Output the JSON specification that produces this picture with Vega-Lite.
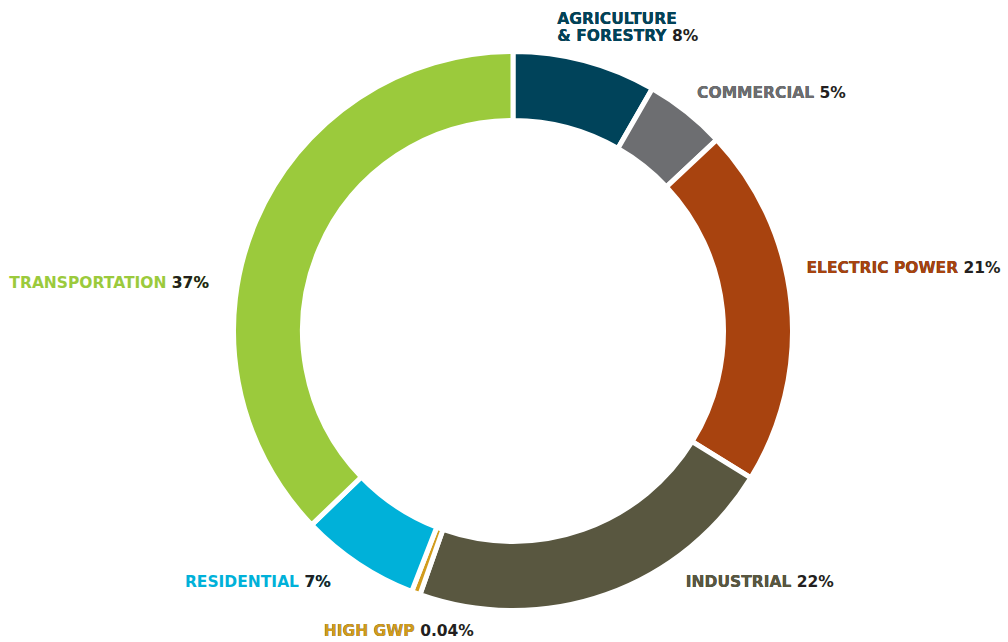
{
  "$schema": "https://vega.github.io/schema/vega-lite/v6.json",
  "width": 990,
  "height": 622,
  "autosize": {"type": "none"},
  "padding": {"left": 18, "top": 20, "right": 0, "bottom": 0},
  "background": "white",
  "config": {"view": {"stroke": null}},
  "data": {
    "values": [
      {"name": "AGRICULTURE\n& FORESTRY", "pct": "8%", "share": 8.3},
      {"name": "COMMERCIAL", "pct": "5%", "share": 4.7},
      {"name": "ELECTRIC POWER", "pct": "21%", "share": 20.8},
      {"name": "INDUSTRIAL", "pct": "22%", "share": 21.6},
      {"name": "HIGH GWP", "pct": "0.04%", "share": 0.5},
      {"name": "RESIDENTIAL", "pct": "7%", "share": 6.9},
      {"name": "TRANSPORTATION", "pct": "37%", "share": 37.2}
    ]
  },
  "transform": [
    {"window": [{"op": "row_number", "as": "idx"}]},
    {"calculate": "datum.name + ' ' + datum.pct", "as": "full"}
  ],
  "encoding": {
    "theta": {"field": "share", "type": "quantitative", "stack": true},
    "order": {"field": "idx", "type": "quantitative"}
  },
  "layer": [
    {
      "mark": {"type": "arc", "radius": 279.5, "radius2": 210.5, "stroke": "white", "strokeWidth": 5},
      "encoding": {
        "color": {
          "field": "name", "type": "nominal", "legend": null,
          "scale": {
            "domain": ["AGRICULTURE\n& FORESTRY", "COMMERCIAL", "ELECTRIC POWER", "INDUSTRIAL", "HIGH GWP", "RESIDENTIAL", "TRANSPORTATION"],
            "range": ["#00435A", "#6D6E71", "#A8430F", "#595740", "#D19C1D", "#00B1D9", "#9BCA3C"]
          }
        }
      }
    },
    {
      "mark": {"type": "text", "radius": 300, "align": "left", "baseline": "alphabetic", "font": "DejaVu Sans", "fontWeight": "bold", "fontSize": 15.5, "lineBreak": "\n", "lineHeight": 16.5, "dx": -33, "dy": -17, "color": "#231F20"},
      "encoding": {"detail": {"field": "name"}, "text": {"condition": {"test": "datum.idx === 1", "field": "full"}, "value": ""}}
    },
    {
      "mark": {"type": "text", "radius": 300, "align": "left", "baseline": "alphabetic", "font": "DejaVu Sans", "fontWeight": "bold", "fontSize": 15.5, "lineBreak": "\n", "lineHeight": 16.5, "dx": -33, "dy": -17},
      "encoding": {"detail": {"field": "name"}, "color": {"field": "name", "type": "nominal", "legend": null}, "text": {"condition": {"test": "datum.idx === 1", "field": "name"}, "value": ""}}
    },
    {
      "mark": {"type": "text", "radius": 300, "align": "left", "baseline": "alphabetic", "font": "DejaVu Sans", "fontWeight": "bold", "fontSize": 15.5, "dx": -2, "dy": 2, "color": "#231F20"},
      "encoding": {"detail": {"field": "name"}, "text": {"condition": {"test": "datum.idx === 2", "field": "full"}, "value": ""}}
    },
    {
      "mark": {"type": "text", "radius": 300, "align": "left", "baseline": "alphabetic", "font": "DejaVu Sans", "fontWeight": "bold", "fontSize": 15.5, "dx": -2, "dy": 2},
      "encoding": {"detail": {"field": "name"}, "color": {"field": "name", "type": "nominal", "legend": null}, "text": {"condition": {"test": "datum.idx === 2", "field": "name"}, "value": ""}}
    },
    {
      "mark": {"type": "text", "radius": 300, "align": "left", "baseline": "alphabetic", "font": "DejaVu Sans", "fontWeight": "bold", "fontSize": 15.5, "dx": -5, "dy": -28, "color": "#231F20"},
      "encoding": {"detail": {"field": "name"}, "text": {"condition": {"test": "datum.idx === 3", "field": "full"}, "value": ""}}
    },
    {
      "mark": {"type": "text", "radius": 300, "align": "left", "baseline": "alphabetic", "font": "DejaVu Sans", "fontWeight": "bold", "fontSize": 15.5, "dx": -5, "dy": -28},
      "encoding": {"detail": {"field": "name"}, "color": {"field": "name", "type": "nominal", "legend": null}, "text": {"condition": {"test": "datum.idx === 3", "field": "name"}, "value": ""}}
    },
    {
      "mark": {"type": "text", "radius": 300, "align": "left", "baseline": "alphabetic", "font": "DejaVu Sans", "fontWeight": "bold", "fontSize": 15.5, "dx": 73, "dy": -27, "color": "#231F20"},
      "encoding": {"detail": {"field": "name"}, "text": {"condition": {"test": "datum.idx === 4", "field": "full"}, "value": ""}}
    },
    {
      "mark": {"type": "text", "radius": 300, "align": "left", "baseline": "alphabetic", "font": "DejaVu Sans", "fontWeight": "bold", "fontSize": 15.5, "dx": 73, "dy": -27},
      "encoding": {"detail": {"field": "name"}, "color": {"field": "name", "type": "nominal", "legend": null}, "text": {"condition": {"test": "datum.idx === 4", "field": "name"}, "value": ""}}
    },
    {
      "mark": {"type": "text", "radius": 300, "align": "left", "baseline": "alphabetic", "font": "DejaVu Sans", "fontWeight": "bold", "fontSize": 15.5, "dx": -85, "dy": 24, "color": "#231F20"},
      "encoding": {"detail": {"field": "name"}, "text": {"condition": {"test": "datum.idx === 5", "field": "full"}, "value": ""}}
    },
    {
      "mark": {"type": "text", "radius": 300, "align": "left", "baseline": "alphabetic", "font": "DejaVu Sans", "fontWeight": "bold", "fontSize": 15.5, "dx": -85, "dy": 24},
      "encoding": {"detail": {"field": "name"}, "color": {"field": "name", "type": "nominal", "legend": null}, "text": {"condition": {"test": "datum.idx === 5", "field": "name"}, "value": ""}}
    },
    {
      "mark": {"type": "text", "radius": 300, "align": "right", "baseline": "alphabetic", "font": "DejaVu Sans", "fontWeight": "bold", "fontSize": 15.5, "dx": -16, "dy": 6},
      "encoding": {"detail": {"field": "name"}, "color": {"field": "name", "type": "nominal", "legend": null}, "text": {"condition": {"test": "datum.idx === 6", "field": "full"}, "value": ""}}
    },
    {
      "mark": {"type": "text", "radius": 300, "align": "right", "baseline": "alphabetic", "font": "DejaVu Sans", "fontWeight": "bold", "fontSize": 15.5, "dx": -16, "dy": 6, "color": "#231F20"},
      "encoding": {"detail": {"field": "name"}, "text": {"condition": {"test": "datum.idx === 6", "field": "pct"}, "value": ""}}
    },
    {
      "mark": {"type": "text", "radius": 300, "align": "right", "baseline": "alphabetic", "font": "DejaVu Sans", "fontWeight": "bold", "fontSize": 15.5, "dx": -28, "dy": 74},
      "encoding": {"detail": {"field": "name"}, "color": {"field": "name", "type": "nominal", "legend": null}, "text": {"condition": {"test": "datum.idx === 7", "field": "full"}, "value": ""}}
    },
    {
      "mark": {"type": "text", "radius": 300, "align": "right", "baseline": "alphabetic", "font": "DejaVu Sans", "fontWeight": "bold", "fontSize": 15.5, "dx": -28, "dy": 74, "color": "#231F20"},
      "encoding": {"detail": {"field": "name"}, "text": {"condition": {"test": "datum.idx === 7", "field": "pct"}, "value": ""}}
    }
  ]
}
